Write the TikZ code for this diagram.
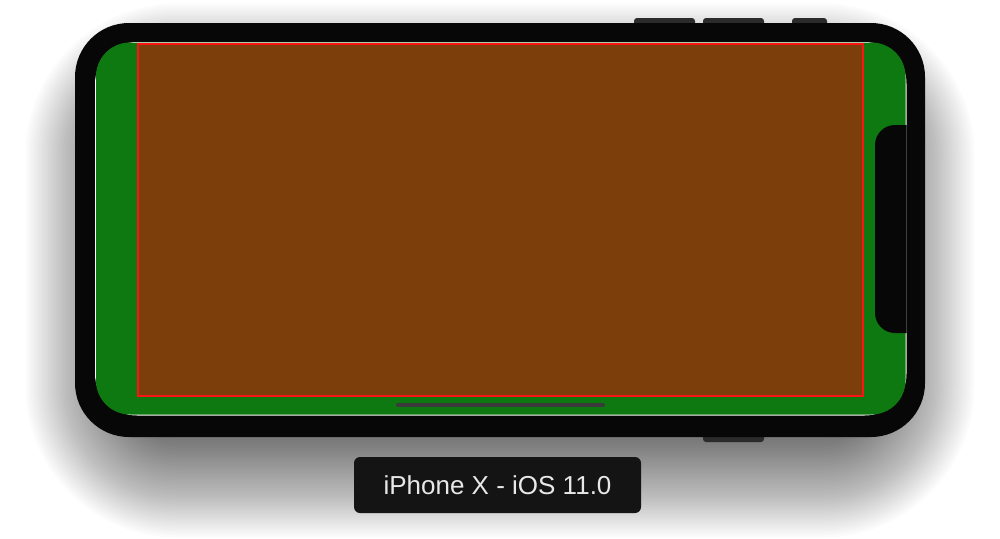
\documentclass[tikz,border=0pt]{standalone}
\usepackage{fontspec}
\setmainfont{Liberation Sans}
\definecolor{phBlack}{RGB}{7, 7, 7}
\definecolor{phButton}{RGB}{43, 43, 43}
\definecolor{phGreen}{RGB}{15, 121, 17}
\definecolor{phBrown}{RGB}{124, 63, 12}
\definecolor{phRed}{RGB}{250, 20, 20}
\definecolor{phHome}{RGB}{58, 58, 58}
\definecolor{phLabel}{RGB}{20, 20, 20}
\definecolor{phText}{RGB}{232, 232, 232}

\begin{document}
\begin{tikzpicture}[x=1pt, y=-1pt,
    button/.style={fill=phButton, rounded corners=3pt},
    tag/.style={fill=phLabel, rounded corners=6pt, minimum width=287pt,
      minimum height=56pt, inner sep=0pt, text=phText,
      font=\fontsize{26}{30}\selectfont}]
    \useasboundingbox[fill=white] (0, 0) rectangle (1000, 538);
    % soft shadow under the phone
    \foreach \e [evaluate=\e as \r using 54+\e] in {0,2.5,...,98} {%
      \fill[black, opacity=0.015, rounded corners=\r pt]
        (123-\e, 101-\e) rectangle (877+\e, 440+\e);
    }
    % side buttons
    \foreach \xa/\xb in {634/695, 703/764, 792/827} {%
      \fill[button] (\xa, 18) rectangle (\xb, 32);
    }
    \fill[button] (703, 428) rectangle (764, 442);
    % body and screen
    \fill[phBlack, rounded corners=54pt] (75, 23) rectangle (925, 437);
    \fill[white, rounded corners=42pt] (95, 42) rectangle (906.5, 415.5);
    \fill[phGreen, rounded corners=34pt] (96, 42.5) rectangle (905.5, 414.5);
    \begin{scope}
      \clip[rounded corners=42pt] (95, 42) rectangle (906.5, 415.5);
      \fill[phBlack, rounded corners=20pt] (875, 125) rectangle (940, 333);
    \end{scope}
    % safe area
    \fill[phBrown] (138, 43.5) rectangle (862.5, 395.5);
    \draw[phRed, line width=2pt] (138, 43.5) rectangle (862.5, 395.5);
    \draw[phHome, line width=4pt, line cap=round] (398, 405) -- (603, 405);
    % device label
    \node[tag] (osLabel) at (497.5, 485) {iPhone X - iOS 11.0};
  \end{tikzpicture}
\end{document}
